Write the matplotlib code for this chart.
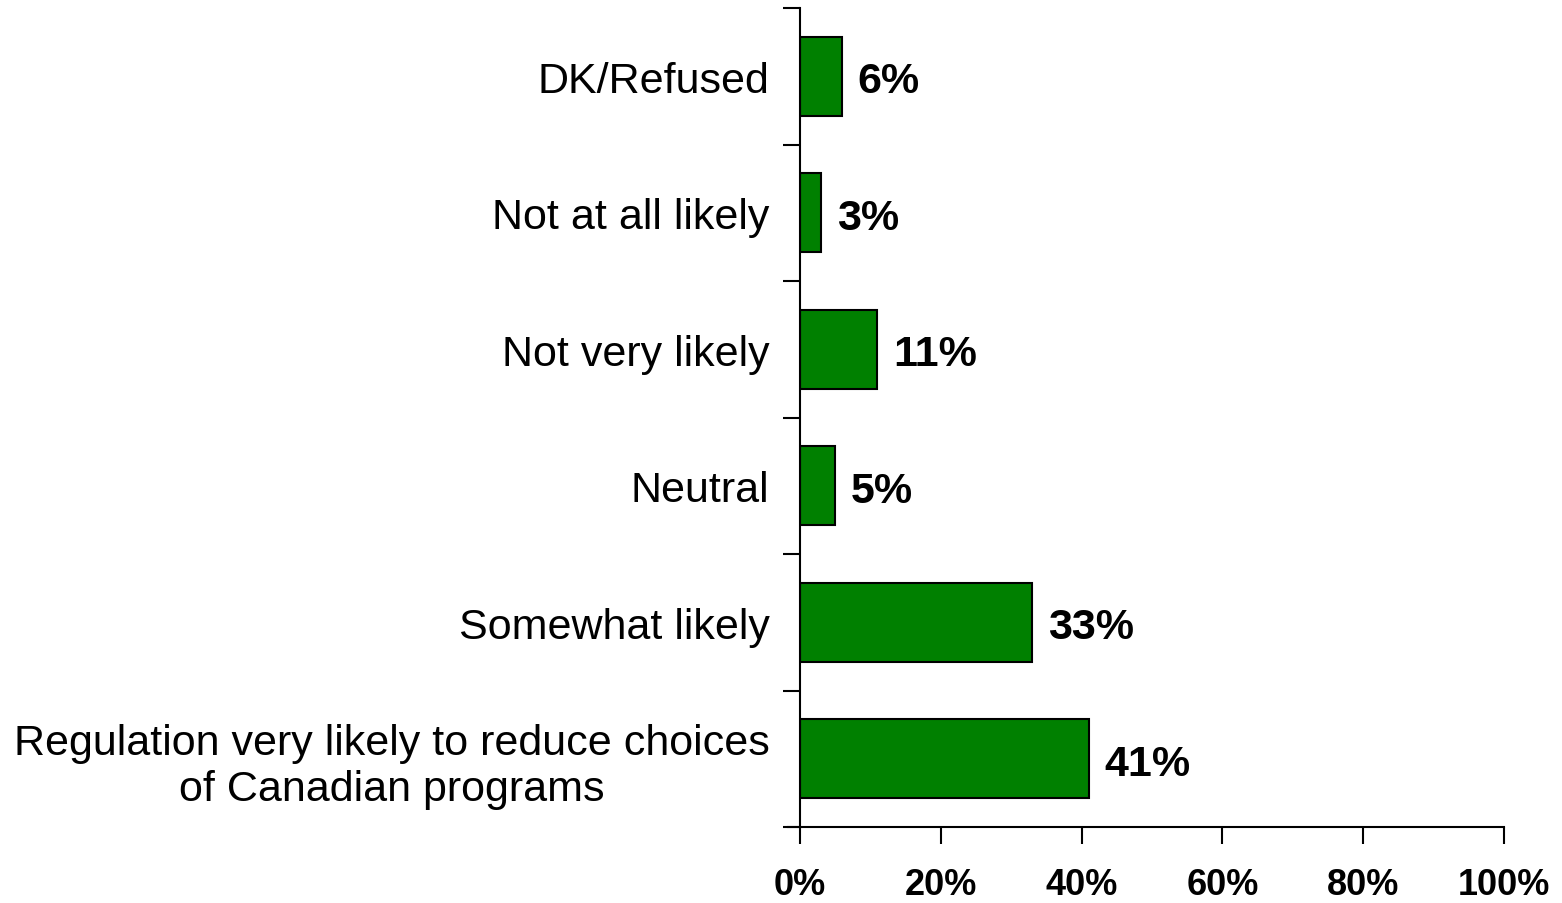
import matplotlib.pyplot as plt
import numpy as np

# answers, bottom to top
categories = ['Regulation very likely to reduce choices\nof Canadian programs',
              'Somewhat likely', 'Neutral', 'Not very likely',
              'Not at all likely', 'DK/Refused']
values = [41, 33, 5, 11, 3, 6]
xticks = [0, 20, 40, 60, 80, 100]

plt.rcParams['font.family'] = ['Liberation Sans', 'DejaVu Sans']

fig = plt.figure(figsize=(15.62, 9.04), dpi=100)
ax = fig.add_axes([800 / 1562, 1 - 828 / 904, 704 / 1562, 819 / 904])

y = np.arange(len(categories))
ax.barh(y, values, height=0.58, color='#008000', edgecolor='black', linewidth=1.5)

for yi, v in zip(y, values):
    ax.text(v + 2.2, yi - 0.035, f'{v}%', ha='left', va='center',
            fontsize=31, fontweight='bold')

ax.set_xlim(0, 100)
ax.set_ylim(-0.5, len(categories) - 0.5)
ax.set_xticks(xticks)
ax.set_xticklabels([f'{t}%' for t in xticks], fontsize=26, fontweight='bold')
ax.set_yticks(y)
ax.set_yticklabels(categories, fontsize=31, multialignment='center')
ax.set_yticks(np.arange(len(categories) + 1) - 0.5, minor=True)
ax.tick_params(axis='y', which='major', length=0, pad=22)
ax.tick_params(axis='y', which='minor', length=12, width=1.5, direction='out')
ax.tick_params(axis='x', length=12, width=1.5, direction='out', pad=17)

ax.spines['top'].set_visible(False)
ax.spines['right'].set_visible(False)
ax.spines['left'].set_linewidth(1.5)
ax.spines['bottom'].set_linewidth(1.5)
ax.spines['bottom'].set_bounds(-1.7, 100)

fig.savefig('out.png', dpi=100)
